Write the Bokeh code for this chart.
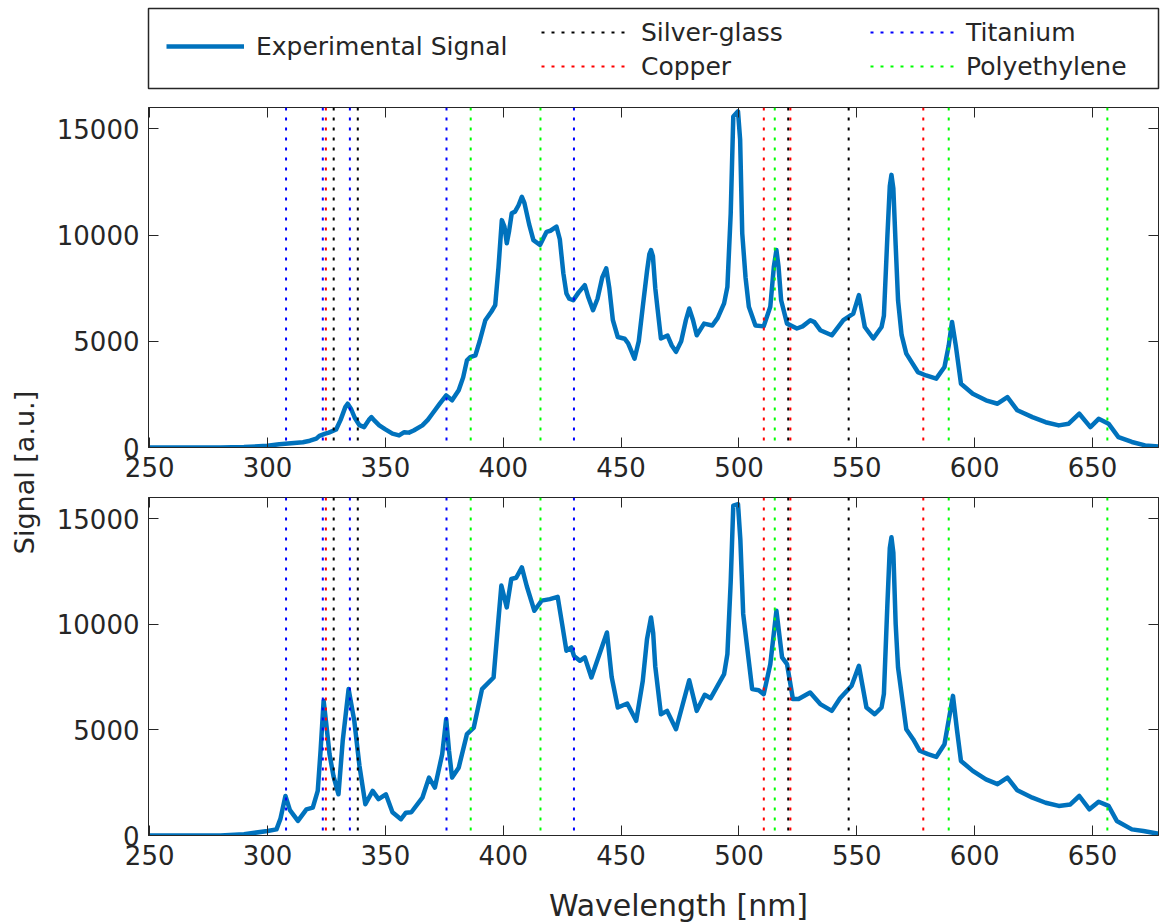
from math import pi
from bokeh.plotting import figure
from bokeh.models import (Range1d, Span, Legend, LegendItem, LinearAxis, FixedTicker,
                          Label, ColumnDataSource)
from bokeh.layouts import column, row
from bokeh.embed import file_html
from bokeh.resources import INLINE

# ---------------- data ----------------
wl_top = [250, 260, 270, 280, 290, 300, 305, 310, 315, 318, 320.7, 322, 324.2, 326, 329.1, 331, 333, 334,
          335.5, 337, 339, 341, 343, 344.1, 345.5, 347.4, 350, 353, 355.8, 358, 360, 362, 365.7, 368, 370,
          373, 375.8, 378.3, 381.1, 383, 384.6, 386, 388.2, 390, 392.4, 395, 396.6, 398, 399.4, 400.5,
          401.5, 402.5, 403.6, 405, 406.5, 407.9, 409, 411, 412.8, 415.6, 418.4, 420, 422.6, 424, 425.5,
          426.8, 428, 429.7, 432, 434.6, 436, 438.1, 440, 442, 443.7, 445, 446.5, 448.6, 451.5, 453,
          455.7, 457.5, 459.2, 461, 462, 462.7, 463.5, 464.5, 465.5, 466.9, 469.7, 471.5, 473.3, 475.5,
          477.5, 478.9, 480.5, 482.1, 485.2, 488.7, 491, 493.7, 495.1, 496.5, 497.6, 499.6, 500.5, 501.4,
          502.8, 504.2, 507, 510.5, 513.3, 514.8, 515.9, 516.8, 517.9, 520.4, 524.6, 527, 530.3, 532,
          534.5, 539.4, 544.3, 548.5, 550.9, 553.4, 557, 560.5, 561.5, 563, 564, 564.7, 565.5, 566.5,
          567.5, 569, 571, 575.9, 579.4, 583.7, 587.2, 589, 590.4, 592, 594.2, 599.2, 604.8, 609.7,
          613.9, 618.1, 624.5, 630.1, 635.7, 639.9, 644.4, 649.1, 652.6, 656.8, 661, 666.7, 672.3, 678]
sig_top = [0, 0, 0, 0, 20, 80, 150, 200, 250, 320, 420, 550, 640, 700, 850, 1300, 1900, 2060,
           1800, 1400, 1050, 960, 1300, 1430, 1250, 1040, 850, 650, 570, 720, 700, 800, 1040, 1300, 1600,
           2050, 2450, 2220, 2690, 3300, 4100, 4250, 4340, 5000, 5990, 6400, 6700, 8500, 10700, 10400,
           9610, 10200, 11020, 11100, 11400, 11800, 11500, 10500, 9760, 9530, 10150, 10200, 10390, 9800, 8200,
           7250, 7000, 6930, 7300, 7640, 7100, 6460, 7000, 8000, 8430, 7500, 6000, 5200, 5120, 4900,
           4180, 5000, 6620, 8300, 9100, 9290, 9000, 7500, 6500, 5130, 5270, 4800, 4500, 5000,
           6000, 6540, 6000, 5280, 5830, 5740, 6100, 6780, 7560, 11000, 15580, 15820, 14500, 10080,
           8000, 6620, 5740, 5700, 6620, 8500, 9290, 8500, 6930, 5830, 5600, 5700, 5990, 5900,
           5520, 5280, 5990, 6300, 7170, 5670, 5130, 5670, 6200, 10000, 12300, 12830, 12200, 9500,
           6930, 5300, 4420, 3550, 3390, 3240, 3790, 4800, 5910, 4800, 3000, 2530, 2220, 2060,
           2370, 1750, 1430, 1190, 1040, 1120, 1590, 960, 1350, 1120, 490, 260, 100, 50]

wl_bot = [250, 260, 270, 280, 290, 300, 303.8, 305.5, 307.6, 309.5, 312.9, 316.5, 319.2, 321.3, 322.5,
          323.8, 325, 326.3, 328, 330.1, 331.9, 334.4, 336.8, 339, 341.5, 344.6, 347.1, 350.2, 353, 356.6,
          358.7, 361, 365.7, 368.5, 371, 374.1, 375.8, 377, 378.3, 381.1, 384.6, 387.5, 391, 395.9, 397.8,
          399.2, 401.5, 403.4, 405.5, 407.9, 410, 413.2, 416.3, 419.8, 423.1, 425, 426.8, 428.9, 430,
          432.5, 434.6, 437.4, 444, 446, 448.6, 452.6, 456.4, 459.2, 461, 462.7, 463.6, 464.5, 466.9,
          469.5, 473.3, 478.9, 482.1, 485.5, 488, 493.7, 495.1, 496.5, 497.6, 499.6, 500.6, 501.8, 505.6,
          508.4, 510.5, 513.3, 515.9, 518.3, 520.4, 522.9, 525.3, 530.2, 534.5, 539.4, 542.9, 547.8,
          550.9, 554.1, 557.6, 560.5, 561.5, 563, 564, 564.7, 565.5, 566.5, 567.5, 571, 573.9, 576.7,
          580.2, 583.7, 587.2, 590.8, 592.5, 594.2, 599.2, 604.8, 609.7, 613.9, 618.1, 624.5, 630.1,
          635.7, 640.6, 644.4, 648.7, 652.6, 656.8, 660.3, 666.7, 671.6, 678]
sig_bot = [0, 0, 0, 0, 60, 210, 290, 800, 1870, 1200, 690, 1240, 1320, 2110, 4000,
           6380, 5200, 3850, 2800, 1950, 4480, 6930, 5430, 3300, 1480, 2110, 1720, 1950, 1100, 770,
           1080, 1100, 1790, 2740, 2270, 3850, 5510, 4000, 2740, 3210, 4800, 5110, 6930, 7480, 10000,
           11830, 10800, 12140, 12200, 12690, 11800, 10640, 11120, 11190, 11300, 10000, 8750, 8900, 8500,
           8270, 8430, 7480, 9610, 7500, 6060, 6250, 5430, 7320, 9300, 10320, 9600, 8000, 5740,
           5900, 5030, 7350, 5900, 6660, 6500, 7640, 8590, 12000, 15620, 15690, 14000, 10490, 6930,
           6880, 6690, 8110, 10640, 8430, 8110, 6460, 6460, 6770, 6220, 5900, 6500, 7090,
           8030, 6060, 5740, 6060, 6700, 11000, 13600, 14120, 13400, 10000, 7950, 5030, 4560, 4010,
           3850, 3720, 4320, 6610, 5000, 3530, 3060, 2660, 2430, 2740, 2140, 1790, 1550,
           1400, 1470, 1870, 1240, 1600, 1400, 690, 290, 210, 80]

silver_glass = [328.07, 338.29, 520.91, 546.55]
copper = [324.75, 510.55, 521.82, 578.21]
titanium = [307.86, 323.45, 334.94, 375.93, 430.0]
polyethylene = [386.2, 415.8, 515.2, 589.0, 656.3]

x_ticks = [250, 300, 350, 400, 450, 500, 550, 600, 650]
y_ticks = [0, 5000, 10000, 15000]

# ---------------- style ----------------
FONT = "DejaVu Sans"
TXT = "#262626"
SIG_COLOR = "#0072BD"
refs = [("Silver-glass", silver_glass, "#000000"),
        ("Copper", copper, "#FF0000"),
        ("Titanium", titanium, "#0000FF"),
        ("Polyethylene", polyethylene, "#00FF00")]
DASH = "3 7"
TICK_FS = "26px"
LEFT = 100
RIGHT = 3
YL_W = 48
TOTAL_H = 924


def style_axis(ax, labels=True):
    ax.axis_line_color = TXT
    ax.major_tick_line_color = TXT
    ax.major_tick_in = 10
    ax.major_tick_out = 0
    ax.minor_tick_line_color = None
    ax.major_label_text_font = FONT
    if labels:
        ax.major_label_text_color = TXT
        ax.major_label_text_font_size = TICK_FS
        ax.major_label_standoff = 9
    else:
        ax.major_label_text_color = None
        ax.major_label_text_font_size = "1px"
        ax.major_label_standoff = 0


def make_panel(wl, sig, height, bottom):
    p = figure(width=LEFT + 1015 + RIGHT, height=height,
               x_range=Range1d(249.5, 678), y_range=Range1d(0, 16000),
               output_backend="svg", toolbar_location=None,
               min_border_left=LEFT, min_border_right=RIGHT,
               min_border_top=0, min_border_bottom=bottom)
    p.xgrid.visible = False
    p.ygrid.visible = False
    p.outline_line_color = TXT
    p.outline_line_width = 1
    p.xaxis.ticker = FixedTicker(ticks=x_ticks)
    p.yaxis.ticker = FixedTicker(ticks=y_ticks)
    style_axis(p.xaxis[0])
    style_axis(p.yaxis[0])
    top_ax = LinearAxis(ticker=FixedTicker(ticks=x_ticks))
    style_axis(top_ax, labels=False)
    p.add_layout(top_ax, "above")
    right_ax = LinearAxis(ticker=FixedTicker(ticks=y_ticks))
    style_axis(right_ax, labels=False)
    p.add_layout(right_ax, "right")

    src = ColumnDataSource(dict(wl=wl, sig=sig))
    p.line("wl", "sig", source=src, color=SIG_COLOR, line_width=4.5, line_join="round")
    for _, lines, col in refs:
        for w in lines:
            p.add_layout(Span(location=w, dimension="height", line_color=col,
                              line_dash=DASH, line_width=2))
    return p


def text_fig(width, height):
    f = figure(width=width, height=height, x_range=Range1d(0, 1), y_range=Range1d(0, 1),
               x_axis_type=None, y_axis_type=None, output_backend="svg",
               toolbar_location=None, min_border=0)
    f.outline_line_color = None
    return f


top = make_panel(wl_top, sig_top, 390, 50)
bot = make_panel(wl_bot, sig_bot, 378, 40)

# x axis title (slightly right of the frame centre, as in the reference)
xl = text_fig(LEFT + 1015 + RIGHT, 49)
xl.add_layout(Label(x=678 - YL_W - LEFT, y=19, x_units="screen", y_units="screen",
                    text="Wavelength [nm]", text_align="center", text_baseline="middle",
                    text_font=FONT, text_font_size="30px", text_color=TXT))

# ---------------- legend box ----------------
lg = figure(width=LEFT + 1010 + 8, height=107, x_range=Range1d(0, 1), y_range=Range1d(0, 1),
            x_axis_type=None, y_axis_type=None, output_backend="svg", toolbar_location=None,
            min_border_left=LEFT, min_border_right=8, min_border_top=8, min_border_bottom=19)
lg.outline_line_color = TXT
lg.outline_line_width = 1.5
NAN = float("nan")
r_sig = lg.line(x=[NAN], y=[NAN], color=SIG_COLOR, line_width=4.5)
r_refs = {name: lg.line(x=[NAN], y=[NAN], color=col, line_dash=DASH, line_width=2)
          for name, _, col in refs}


def mk_legend(items, loc, gw):
    return Legend(items=items, location=loc, orientation="vertical",
                  border_line_color=None, background_fill_alpha=0, padding=0, margin=0,
                  glyph_width=gw, glyph_height=30, label_height=30, label_standoff=12,
                  spacing=4, label_text_font=FONT, label_text_font_size="25px",
                  label_text_color=TXT)


lg.add_layout(mk_legend([LegendItem(label="Experimental Signal", renderers=[r_sig])], (18, 27), 78))
lg.add_layout(mk_legend([LegendItem(label="Silver-glass", renderers=[r_refs["Silver-glass"]]),
                         LegendItem(label="Copper", renderers=[r_refs["Copper"]])], (393, 7), 88))
lg.add_layout(mk_legend([LegendItem(label="Titanium", renderers=[r_refs["Titanium"]]),
                         LegendItem(label="Polyethylene", renderers=[r_refs["Polyethylene"]])], (722, 7), 84))

# ---------------- shared y label ----------------
yl = text_fig(YL_W, TOTAL_H)
yl.add_layout(Label(x=24, y=TOTAL_H - 472, x_units="screen", y_units="screen", text="Signal [a.u.]",
                    angle=pi / 2, text_align="center", text_baseline="middle",
                    text_font=FONT, text_font_size="27px", text_color=TXT))

layout = row(yl, column(lg, top, bot, xl))
open("out.html", "w").write(file_html(layout, INLINE))
